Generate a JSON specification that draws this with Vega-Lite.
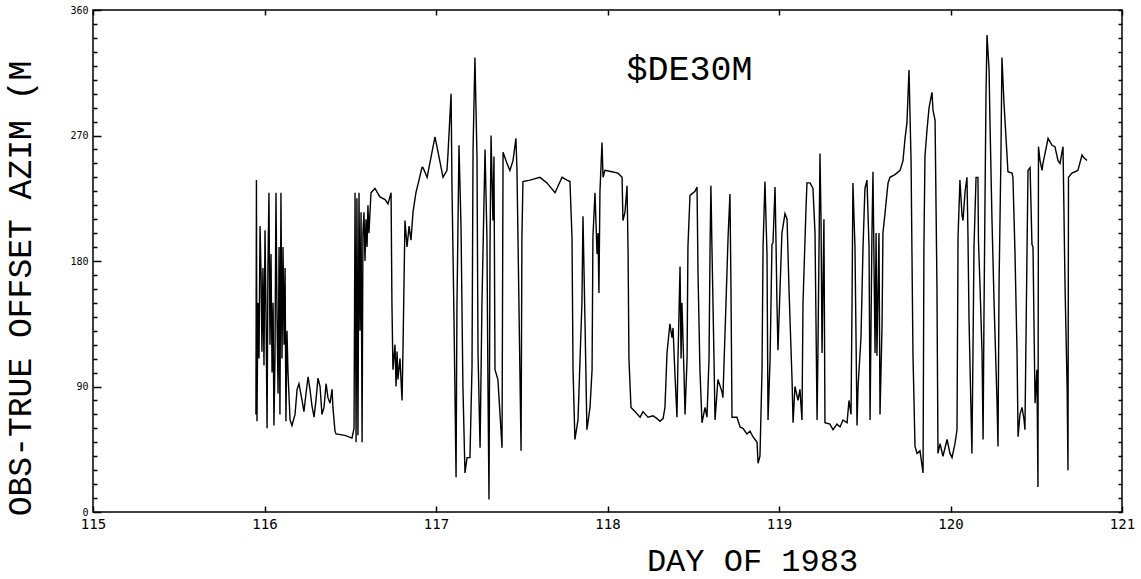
{
  "$schema": "https://vega.github.io/schema/vega-lite/v6.json",
  "width": 1029,
  "height": 502,
  "autosize": "none",
  "padding": {"left": 93, "top": 10, "right": 19, "bottom": 67},
  "background": "white",
  "config": {
    "view": {"stroke": "black", "strokeWidth": 1.5},
    "axis": {"domain": false, "grid": false, "tickColor": "black", "tickWidth": 1.5, "labelColor": "black", "titleColor": "black", "labelFont": "DejaVu Sans Mono", "titleFont": "Liberation Mono", "titleFontWeight": "normal", "labelFlush": false, "labelOverlap": false}
  },
  "title": {"text": "$DE30M", "anchor": "middle", "frame": "group", "dx": 82, "dy": 82, "offset": 0, "baseline": "top", "fontSize": 35, "font": "Liberation Mono", "fontWeight": "normal", "color": "black"},
  "data": {"values": [
    {"day":115.950,"azim":70},{"day":115.953,"azim":238},{"day":115.956,"azim":65},{"day":115.962,"azim":150},{"day":115.968,"azim":110},{"day":115.974,"azim":205},{"day":115.980,"azim":170},{"day":115.985,"azim":115},{"day":115.991,"azim":175},{"day":115.997,"azim":105},{"day":116.003,"azim":202},{"day":116.009,"azim":140},{"day":116.015,"azim":60},{"day":116.020,"azim":175},{"day":116.026,"azim":229},{"day":116.032,"azim":120},{"day":116.038,"azim":185},{"day":116.044,"azim":100},{"day":116.050,"azim":150},{"day":116.055,"azim":62},{"day":116.061,"azim":110},{"day":116.067,"azim":229},{"day":116.073,"azim":140},{"day":116.079,"azim":85},{"day":116.085,"azim":190},{"day":116.090,"azim":70},{"day":116.096,"azim":229},{"day":116.102,"azim":110},{"day":116.108,"azim":190},{"day":116.114,"azim":120},{"day":116.120,"azim":175},{"day":116.125,"azim":65},{"day":116.131,"azim":130},{"day":116.137,"azim":100},{"day":116.149,"azim":66},
    {"day":116.160,"azim":62},{"day":116.178,"azim":70},{"day":116.190,"azim":88},{"day":116.201,"azim":92},{"day":116.219,"azim":80},{"day":116.230,"azim":72},{"day":116.242,"azim":85},{"day":116.254,"azim":97},{"day":116.265,"azim":88},{"day":116.277,"azim":76},{"day":116.289,"azim":68},{"day":116.300,"azim":80},{"day":116.312,"azim":96},{"day":116.324,"azim":90},{"day":116.335,"azim":70},{"day":116.347,"azim":75},{"day":116.359,"azim":92},{"day":116.370,"azim":82},{"day":116.382,"azim":78},{"day":116.394,"azim":88},{"day":116.399,"azim":75},{"day":116.411,"azim":58},{"day":116.417,"azim":56},{"day":116.469,"azim":55},{"day":116.510,"azim":53},
    {"day":116.522,"azim":60},{"day":116.528,"azim":229},{"day":116.534,"azim":50},{"day":116.539,"azim":225},{"day":116.545,"azim":55},{"day":116.551,"azim":229},{"day":116.557,"azim":130},{"day":116.563,"azim":215},{"day":116.569,"azim":50},{"day":116.574,"azim":200},{"day":116.580,"azim":215},{"day":116.586,"azim":180},{"day":116.592,"azim":210},{"day":116.598,"azim":190},{"day":116.603,"azim":220},{"day":116.609,"azim":200},{"day":116.621,"azim":229},{"day":116.644,"azim":232},{"day":116.673,"azim":226},{"day":116.703,"azim":224},{"day":116.720,"azim":221},{"day":116.738,"azim":229},{"day":116.743,"azim":150},{"day":116.749,"azim":102},{"day":116.761,"azim":120},{"day":116.767,"azim":90},{"day":116.773,"azim":115},{"day":116.778,"azim":95},{"day":116.790,"azim":110},{"day":116.802,"azim":80},{"day":116.808,"azim":120},{"day":116.819,"azim":209},{"day":116.831,"azim":190},{"day":116.843,"azim":205},{"day":116.854,"azim":195},{"day":116.866,"azim":215},{"day":116.883,"azim":229},{"day":116.901,"azim":238},{"day":116.918,"azim":247},
    {"day":116.924,"azim":247},{"day":116.948,"azim":240},{"day":116.994,"azim":269},{"day":117.012,"azim":258},{"day":117.041,"azim":240},{"day":117.064,"azim":245},{"day":117.070,"azim":257},{"day":117.088,"azim":300},{"day":117.093,"azim":235},{"day":117.105,"azim":138},{"day":117.117,"azim":25},{"day":117.122,"azim":145},{"day":117.134,"azim":263},{"day":117.146,"azim":204},{"day":117.152,"azim":141},{"day":117.157,"azim":90},{"day":117.169,"azim":28},{"day":117.181,"azim":39},{"day":117.198,"azim":39},{"day":117.210,"azim":104},{"day":117.216,"azim":260},{"day":117.227,"azim":326},{"day":117.239,"azim":255},{"day":117.245,"azim":114},{"day":117.257,"azim":46},{"day":117.268,"azim":150},{"day":117.286,"azim":260},{"day":117.297,"azim":197},{"day":117.303,"azim":90},{"day":117.309,"azim":9},{"day":117.315,"azim":190},{"day":117.321,"azim":270},{"day":117.332,"azim":209},{"day":117.338,"azim":255},{"day":117.344,"azim":102},{"day":117.361,"azim":95},{"day":117.385,"azim":46},{"day":117.391,"azim":258},{"day":117.414,"azim":250},{"day":117.431,"azim":245},{"day":117.449,"azim":252},{"day":117.466,"azim":268},{"day":117.472,"azim":246},{"day":117.478,"azim":197},{"day":117.496,"azim":44},{"day":117.501,"azim":197},{"day":117.507,"azim":237},{"day":117.548,"azim":238},{"day":117.606,"azim":240},{"day":117.647,"azim":236},{"day":117.694,"azim":229},{"day":117.735,"azim":240},{"day":117.764,"azim":238},{"day":117.781,"azim":237},{"day":117.793,"azim":197},{"day":117.799,"azim":102},{"day":117.810,"azim":52},{"day":117.828,"azim":66},{"day":117.851,"azim":150},{"day":117.857,"azim":212},{"day":117.869,"azim":135},{"day":117.880,"azim":59},{"day":117.898,"azim":75},{"day":117.910,"azim":102},{"day":117.915,"azim":197},{"day":117.927,"azim":229},{"day":117.939,"azim":185},
    {"day":117.945,"azim":200},{"day":117.950,"azim":157},{"day":117.956,"azim":230},{"day":117.968,"azim":265},{"day":117.974,"azim":240},{"day":117.985,"azim":245},{"day":118.026,"azim":244},{"day":118.061,"azim":243},{"day":118.085,"azim":240},{"day":118.090,"azim":209},{"day":118.102,"azim":215},{"day":118.114,"azim":234},{"day":118.120,"azim":186},{"day":118.125,"azim":110},{"day":118.137,"azim":75},{"day":118.160,"azim":72},{"day":118.190,"azim":68},{"day":118.207,"azim":72},{"day":118.236,"azim":68},{"day":118.265,"azim":69},{"day":118.289,"azim":67},{"day":118.306,"azim":65},{"day":118.324,"azim":67},{"day":118.335,"azim":75},{"day":118.347,"azim":114},{"day":118.364,"azim":135},{"day":118.376,"azim":125},{"day":118.382,"azim":132},{"day":118.394,"azim":97},{"day":118.405,"azim":68},{"day":118.411,"azim":110},{"day":118.423,"azim":176},{"day":118.429,"azim":110},{"day":118.434,"azim":150},{"day":118.446,"azim":100},{"day":118.452,"azim":70},{"day":118.464,"azim":110},{"day":118.469,"azim":190},{"day":118.481,"azim":227},{"day":118.510,"azim":230},{"day":118.522,"azim":233},{"day":118.528,"azim":170},{"day":118.539,"azim":102},{"day":118.551,"azim":64},{"day":118.569,"azim":75},{"day":118.580,"azim":68},{"day":118.592,"azim":110},{"day":118.598,"azim":190},{"day":118.603,"azim":234},{"day":118.609,"azim":190},{"day":118.621,"azim":110},{"day":118.627,"azim":66},{"day":118.644,"azim":95},{"day":118.668,"azim":86},{"day":118.673,"azim":82},{"day":118.691,"azim":150},{"day":118.703,"azim":197},{"day":118.714,"azim":228},{"day":118.720,"azim":160},{"day":118.726,"azim":68},{"day":118.755,"azim":68},{"day":118.773,"azim":61},{"day":118.790,"azim":60},{"day":118.813,"azim":56},{"day":118.831,"azim":58},{"day":118.848,"azim":54},{"day":118.872,"azim":50},{"day":118.878,"azim":35},{"day":118.889,"azim":40},{"day":118.901,"azim":102},{"day":118.907,"azim":190},{"day":118.918,"azim":237},{"day":118.930,"azim":185},{"day":118.936,"azim":66},{"day":118.948,"azim":110},{"day":118.959,"azim":192},
    {"day":118.965,"azim":193},{"day":118.977,"azim":233},{"day":118.983,"azim":190},{"day":118.988,"azim":150},{"day":118.994,"azim":116},{"day":119.006,"azim":160},{"day":119.017,"azim":200},{"day":119.035,"azim":214},{"day":119.047,"azim":210},{"day":119.058,"azim":161},{"day":119.076,"azim":95},{"day":119.082,"azim":64},{"day":119.093,"azim":90},{"day":119.111,"azim":80},{"day":119.122,"azim":88},{"day":119.134,"azim":66},{"day":119.140,"azim":150},{"day":119.157,"azim":216},{"day":119.163,"azim":236},{"day":119.181,"azim":236},{"day":119.198,"azim":232},{"day":119.210,"azim":200},{"day":119.222,"azim":66},{"day":119.227,"azim":114},{"day":119.239,"azim":257},{"day":119.245,"azim":210},{"day":119.251,"azim":114},{"day":119.262,"azim":210},{"day":119.268,"azim":64},{"day":119.297,"azim":63},{"day":119.315,"azim":59},{"day":119.338,"azim":63},{"day":119.356,"azim":61},{"day":119.373,"azim":66},{"day":119.397,"azim":64},{"day":119.408,"azim":80},{"day":119.420,"azim":70},{"day":119.426,"azim":152},{"day":119.431,"azim":236},{"day":119.443,"azim":190},{"day":119.455,"azim":62},{"day":119.461,"azim":90},{"day":119.478,"azim":125},{"day":119.490,"azim":190},{"day":119.501,"azim":232},{"day":119.513,"azim":238},{"day":119.525,"azim":190},{"day":119.531,"azim":66},{"day":119.542,"azim":200},{"day":119.548,"azim":244},{"day":119.560,"azim":114},{"day":119.566,"azim":200},{"day":119.571,"azim":112},{"day":119.583,"azim":200},{"day":119.589,"azim":70},{"day":119.601,"azim":135},{"day":119.606,"azim":200},{"day":119.618,"azim":214},{"day":119.630,"azim":229},{"day":119.636,"azim":236},{"day":119.647,"azim":240},{"day":119.676,"azim":242},{"day":119.706,"azim":245},{"day":119.723,"azim":252},{"day":119.735,"azim":268},{"day":119.746,"azim":279},{"day":119.758,"azim":317},{"day":119.770,"azim":252},{"day":119.781,"azim":114},{"day":119.793,"azim":47},{"day":119.805,"azim":42},{"day":119.822,"azim":44},{"day":119.840,"azim":28},{"day":119.845,"azim":190},{"day":119.851,"azim":255},{"day":119.863,"azim":274},{"day":119.875,"azim":290},{"day":119.892,"azim":301},{"day":119.898,"azim":288},{"day":119.910,"azim":281},{"day":119.921,"azim":162},{"day":119.927,"azim":42},{"day":119.939,"azim":49},{"day":119.956,"azim":40},{"day":119.980,"azim":52},{"day":119.997,"azim":42},
    {"day":120.009,"azim":39},{"day":120.026,"azim":49},{"day":120.038,"azim":59},{"day":120.044,"azim":197},{"day":120.055,"azim":238},{"day":120.067,"azim":213},{"day":120.073,"azim":209},{"day":120.085,"azim":230},{"day":120.096,"azim":240},{"day":120.102,"azim":197},{"day":120.108,"azim":138},{"day":120.125,"azim":42},{"day":120.131,"azim":114},{"day":120.137,"azim":190},{"day":120.149,"azim":240},{"day":120.160,"azim":240},{"day":120.163,"azim":195},{"day":120.172,"azim":162},{"day":120.184,"azim":114},{"day":120.190,"azim":52},{"day":120.195,"azim":138},{"day":120.201,"azim":221},{"day":120.207,"azim":300},{"day":120.213,"azim":342},{"day":120.225,"azim":317},{"day":120.230,"azim":281},{"day":120.242,"azim":209},{"day":120.254,"azim":150},{"day":120.271,"azim":80},{"day":120.277,"azim":47},{"day":120.283,"azim":162},{"day":120.294,"azim":255},{"day":120.300,"azim":326},{"day":120.312,"azim":293},{"day":120.329,"azim":257},{"day":120.335,"azim":244},{"day":120.359,"azim":243},{"day":120.364,"azim":240},{"day":120.376,"azim":186},{"day":120.388,"azim":114},{"day":120.394,"azim":54},{"day":120.405,"azim":70},{"day":120.417,"azim":75},{"day":120.429,"azim":66},{"day":120.434,"azim":59},{"day":120.446,"azim":186},{"day":120.452,"azim":245},{"day":120.464,"azim":247},{"day":120.475,"azim":192},{"day":120.481,"azim":190},{"day":120.493,"azim":78},{"day":120.504,"azim":102},{"day":120.510,"azim":18},{"day":120.513,"azim":262},{"day":120.522,"azim":252},{"day":120.534,"azim":245},{"day":120.539,"azim":250},{"day":120.551,"azim":257},{"day":120.569,"azim":268},{"day":120.592,"azim":263},{"day":120.609,"azim":262},{"day":120.627,"azim":252},{"day":120.639,"azim":250},{"day":120.650,"azim":258},{"day":120.656,"azim":262},{"day":120.668,"azim":161},{"day":120.680,"azim":90},{"day":120.685,"azim":30},{"day":120.688,"azim":240},{"day":120.708,"azim":243},{"day":120.726,"azim":244},{"day":120.743,"azim":245},{"day":120.767,"azim":256},{"day":120.778,"azim":254},{"day":120.796,"azim":252}
  ]},
  "layer": [
    {
      "mark": {"type": "line", "color": "black", "strokeWidth": 1.4},
      "encoding": {
        "x": {"field": "day", "type": "quantitative", "scale": {"domain": [115, 121], "nice": false, "zero": false},
          "axis": {"orient": "bottom", "values": [115, 116, 117, 118, 119, 120, 121], "format": "d", "offset": -6, "tickSize": 6, "labelPadding": 5, "labelFontSize": 14,
            "encode": {"ticks": {"update": {"y2": {"value": 6}, "stroke": {"value": "black"}, "strokeWidth": {"value": 1.5}, "opacity": {"value": 1}}}},
            "title": "DAY OF 1983", "titleFontSize": 32, "titleX": 659, "titleY": 54, "titleAlign": "center", "titleBaseline": "middle"}},
        "y": {"field": "azim", "type": "quantitative", "scale": {"domain": [0, 360], "nice": false, "zero": true},
          "axis": {"orient": "left", "values": [0, 90, 180, 270, 360], "offset": -8, "tickSize": 8, "labelPadding": 5, "labelFontSize": 10,
            "encode": {"ticks": {"update": {"x2": {"value": -8}, "stroke": {"value": "black"}, "strokeWidth": {"value": 1.5}, "opacity": {"value": 1}}}},
            "title": "OBS-TRUE OFFSET AZIM (M", "titleFontSize": 33, "titleAngle": 270, "titleX": -81, "titleY": 278, "titleAlign": "center", "titleBaseline": "middle"}}
      }
    },
    {
      "mark": {"type": "line", "opacity": 0},
      "encoding": {
        "x": {"field": "day", "type": "quantitative", "axis": {"orient": "top", "values": [115, 116, 117, 118, 119, 120, 121], "offset": -5, "tickSize": 5, "labels": false, "title": null,
          "encode": {"ticks": {"update": {"y2": {"value": -5}, "stroke": {"value": "black"}, "strokeWidth": {"value": 1.5}, "opacity": {"value": 1}}}}}},
        "y": {"field": "azim", "type": "quantitative", "axis": {"orient": "left", "values": [10,20,30,40,50,60,70,80,100,110,120,130,140,150,160,170,190,200,210,220,230,240,250,260,280,290,300,310,320,330,340,350],
          "offset": -4, "tickSize": 4, "labels": false, "title": null,
          "encode": {"ticks": {"update": {"x2": {"value": -4}, "stroke": {"value": "black"}, "strokeWidth": {"value": 1.3}, "opacity": {"value": 1}}}}}}
      }
    },
    {
      "mark": {"type": "line", "opacity": 0},
      "encoding": {
        "x": {"field": "day", "type": "quantitative", "axis": null},
        "y": {"field": "azim", "type": "quantitative", "axis": {"orient": "right", "values": [0,10,20,30,40,50,60,70,80,90,100,110,120,130,140,150,160,170,180,190,200,210,220,230,240,250,260,270,280,290,300,310,320,330,340,350,360],
          "offset": -4, "tickSize": 4, "labels": false, "title": null,
          "encode": {"ticks": {"update": {"x2": {"value": 4}, "stroke": {"value": "black"}, "strokeWidth": {"value": 1.3}, "opacity": {"value": 1}}}}}}
      }
    }
  ],
  "resolve": {"axis": {"x": "independent", "y": "independent"}}
}
